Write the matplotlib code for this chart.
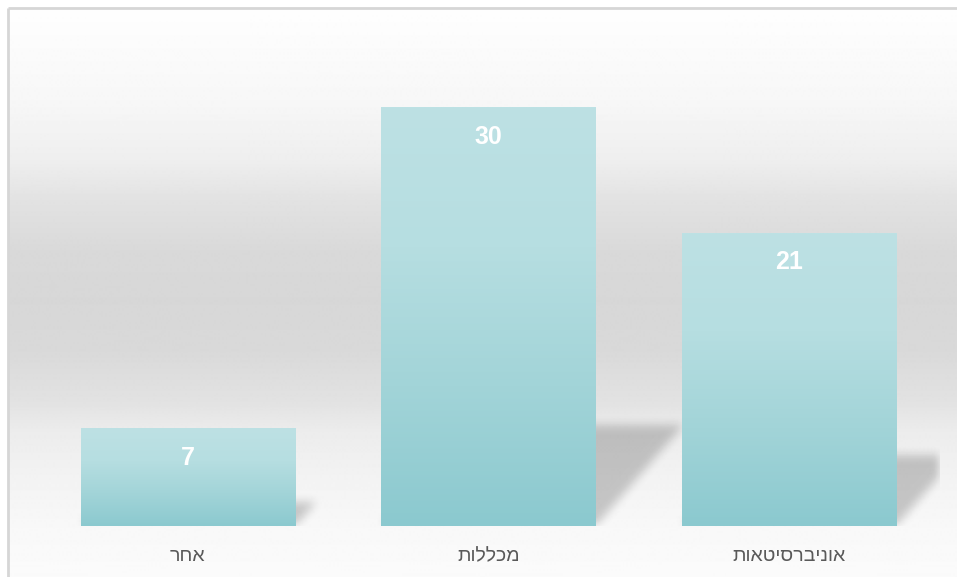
import numpy as np
import matplotlib
matplotlib.use("Agg")
import matplotlib.pyplot as plt
from matplotlib.colors import LinearSegmentedColormap

# data
categories = ["אחר", "מכללות", "אוניברסיטאות"]
values = [7, 30, 21]

plt.rcParams['font.family'] = ['Liberation Sans', 'DejaVu Sans']

W, H = 957, 577


def rtl(s):
    # matplotlib has no bidi support, so flip hebrew text for display
    return s[::-1]


def box_blur(a, r, axis):
    pad = [(0, 0), (0, 0)]
    pad[axis] = (r + 1, r)
    p = np.pad(a, pad, mode='constant')
    c = np.cumsum(p, axis=axis)
    n = a.shape[axis]
    if axis == 0:
        return (c[2 * r + 1:2 * r + 1 + n] - c[:n]) / (2 * r + 1)
    return (c[:, 2 * r + 1:2 * r + 1 + n] - c[:, :n]) / (2 * r + 1)


fig = plt.figure(figsize=(W / 100, H / 100), dpi=100)
fig.patch.set_facecolor('white')

# background gradient inside the chart frame
bg = fig.add_axes([0, 0, 1, 1])
bg.set_axis_off()
bg.set_xlim(0, W)
bg.set_ylim(H, 0)
stops_y = [9, 100, 160, 200, 250, 300, 350, 400, 430, 480, 526, 577]
stops_g = [254, 247, 238, 226, 217, 215, 217, 226, 236, 243, 248, 251]
yy = np.arange(9, H + 1)
gray = np.interp(yy, stops_y, stops_g) / 255.0
grad = np.repeat(gray[:, None], 2, axis=1)
bg.imshow(grad, cmap='gray', vmin=0, vmax=1, extent=(9, W + 2, H + 2, 9),
          aspect='auto', interpolation='bilinear')
bg.plot([8, 8], [8, H + 5], color='#d6d6d6', lw=2, solid_capstyle='butt')
bg.plot([8, W + 5], [8, 8], color='#d6d6d6', lw=2, solid_capstyle='butt')
bg.set_xlim(0, W)
bg.set_ylim(H, 0)

# plot area
left, right, base, top = 37.5, 939.5, 526, 38
ax = fig.add_axes([left / W, (H - base) / H, (right - left) / W, (base - top) / H])
ax.patch.set_alpha(0)
ymax = 35
x = np.arange(len(categories))
width = 0.712

# blurred perspective shadows behind bars
nx, ny = int(right - left), int(base - top)
xs = np.linspace(-0.5, len(categories) - 0.5, nx)
ys = np.linspace(0, ymax, ny)
X, Y = np.meshgrid(xs, ys)
mask = np.zeros_like(X)
for xi, v in zip(x, values):
    hs = 0.24 * v
    dx = 0.0097 * v
    shift = dx * Y / hs
    inside = (Y <= hs) & (X >= xi - width / 2 + shift) & (X <= xi + width / 2 + shift)
    mask = np.maximum(mask, inside.astype(float))
for _ in range(2):
    mask = box_blur(mask, 5, 0)
    mask = box_blur(mask, 5, 1)
rgba = np.zeros((ny, nx, 4))
rgba[..., 3] = mask * 0.2
ax.imshow(rgba, extent=(-0.5, len(categories) - 0.5, 0, ymax), origin='lower',
          aspect='auto', interpolation='bilinear', zorder=1)

# gradient bars
bar_cmap = LinearSegmentedColormap.from_list(
    'bar', ['#8bc9cf', '#a2d4d8', '#b6dee1', '#bde1e4'])
t = np.linspace(0, 1, 256)[:, None]
for xi, v in zip(x, values):
    ax.imshow(t, cmap=bar_cmap, origin='lower', aspect='auto',
              extent=(xi - width / 2, xi + width / 2, 0, v), zorder=2,
              interpolation='bilinear')
    ax.annotate(str(v), (xi, v), xytext=(0, -21), textcoords='offset points',
                ha='center', va='center', color='white', fontsize=18,
                fontweight='bold', zorder=3)

ax.set_xlim(-0.5, len(categories) - 0.5)
ax.set_ylim(0, ymax)
ax.set_xticks(x)
ax.set_xticklabels([rtl(c) for c in categories], fontsize=14, color='#595959')
ax.tick_params(axis='x', length=0, pad=16)
ax.set_yticks([])
for s in ax.spines.values():
    s.set_visible(False)

fig.savefig('out.png', dpi=100)
